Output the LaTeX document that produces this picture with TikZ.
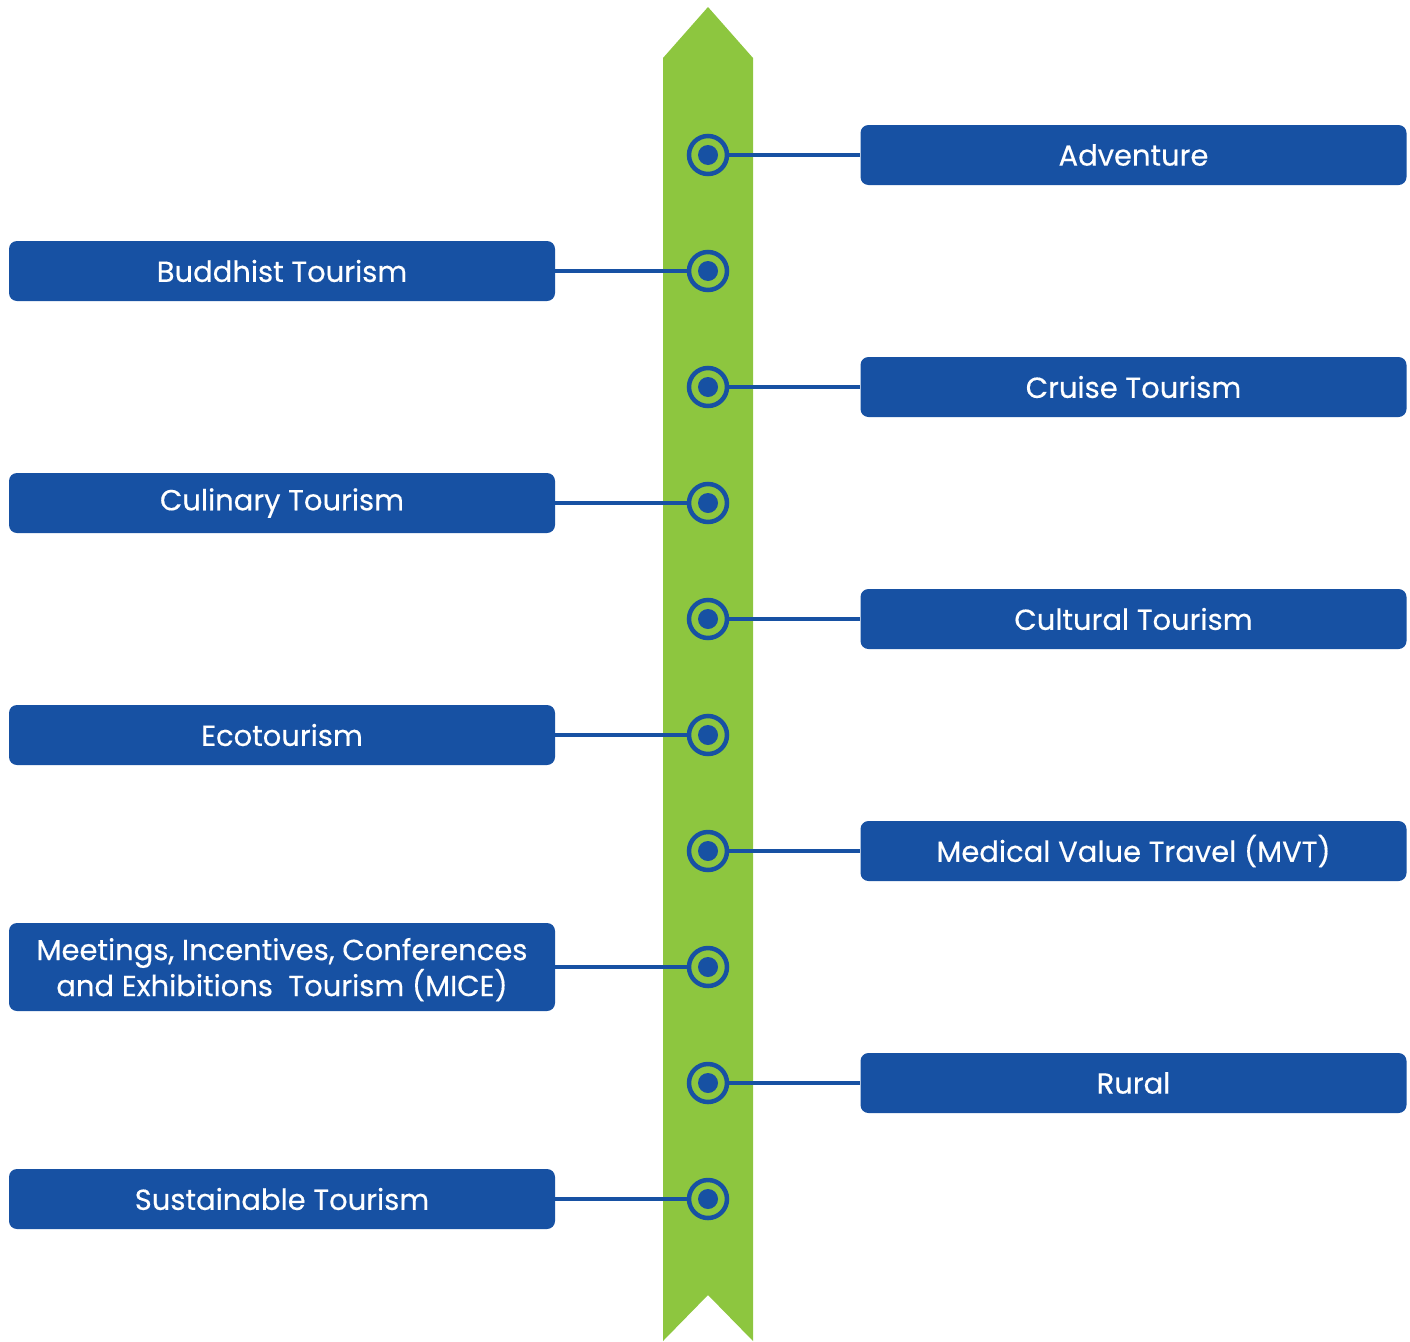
\documentclass[tikz,border=0pt]{standalone}
\usepackage{fontspec}
\setmainfont{Poppins}
\newfontfamily\boxfont{Poppins}[FakeBold=0.4]
\usepackage{xcolor}
\usetikzlibrary{calc}
\definecolor{ribbongreen}{HTML}{8DC63F}
\definecolor{tourblue}{HTML}{1751A3}

\begin{document}
\begin{tikzpicture}[x=1pt, y=-1pt,
    tbox/.style={fill=tourblue, rounded corners=8pt, minimum width=546pt, minimum height=60pt,
      inner sep=0pt, text=white, align=center, font=\boxfont\fontsize{29}{34}\selectfont},
    ring/.style={circle, draw=tourblue, line width=4.5pt, minimum size=38pt, inner sep=0pt},
    link/.style={tourblue, line width=4.5pt}]

      \useasboundingbox (0,0) rectangle (1410,1341);

      \def\xmid{708}
      \def\xleft{282}
      \def\xright{1133.5}

      % ribbon
      \fill[ribbongreen] (663,58) -- (\xmid,7) -- (753,58) -- (753,1341)
        -- (\xmid,1295) -- (663,1341) -- cycle;

      % markers
      \foreach \i in {1,...,10}{
        \pgfmathsetmacro{\yy}{155+(\i-1)*116}
        \node[ring] (dot\i) at (\xmid,\yy) {};
        \fill[tourblue] (dot\i.center) circle (10pt);
      }

      % right side
      \node[tbox] (adventure) at (\xright,155) {\raisebox{-3pt}{Adventure}};
      \node[tbox] (cruise)    at (\xright,387) {\raisebox{-3pt}{Cruise Tourism}};
      \node[tbox] (cultural)  at (\xright,619) {\raisebox{-3pt}{Cultural Tourism}};
      \node[tbox] (mvt)       at (\xright,851) {\raisebox{-3pt}{Medical Value Travel (MVT)}};
      \node[tbox] (rural)     at (\xright,1083) {\raisebox{-3pt}{Rural}};

      % left side
      \node[tbox] (buddhist)    at (\xleft,271) {\raisebox{-3pt}{Buddhist Tourism}};
      \node[tbox] (culinary)    at (\xleft,503) {\raisebox{-3pt}{Culinary Tourism}};
      \node[tbox] (eco)         at (\xleft,735) {\raisebox{-3pt}{Ecotourism}};
      \node[tbox, minimum height=88pt, text depth=-2pt] (mice) at (\xleft,967)
        {Meetings, Incentives, Conferences\\and Exhibitions\ \ Tourism (MICE)};
      \node[tbox] (sustainable) at (\xleft,1199) {\raisebox{-3pt}{Sustainable Tourism}};

      \foreach \d/\b in {1/adventure,3/cruise,5/cultural,7/mvt,9/rural}{
        \draw[link] (dot\d.east) -- (\b.west);
      }
      \foreach \d/\b in {2/buddhist,4/culinary,6/eco,8/mice,10/sustainable}{
        \draw[link] (\b.east) -- (dot\d.west);
      }

    \end{tikzpicture}
\end{document}
